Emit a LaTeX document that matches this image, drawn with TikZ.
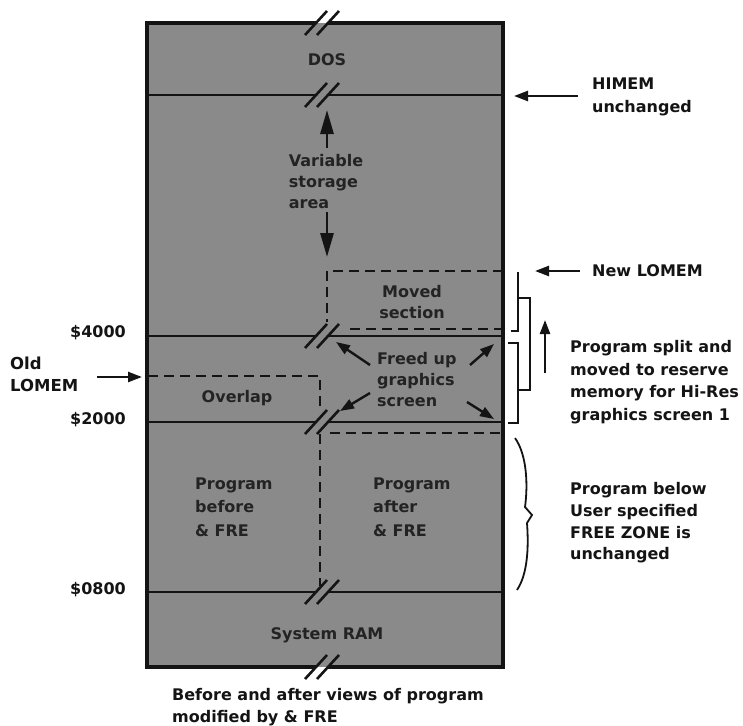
\documentclass[tikz,border=0pt]{standalone}
\usepackage{fontspec}
\setmainfont{DejaVu Sans}
\usetikzlibrary{arrows.meta}
\definecolor{boxgray}{RGB}{138,138,138}
\definecolor{ink}{RGB}{20,20,20}
\definecolor{inink}{RGB}{35,35,35}
\newcommand\brkmark[2]{\draw[brkline,shift={(#1,#2)}] (-17,12) -- (5,-12) (-5,12) -- (17,-12);}
\begin{document}
\begin{tikzpicture}[x=1pt,y=-1pt,
  txt/.style={inner sep=0pt, font=\fontsize{16}{21}\selectfont\bfseries, text=ink},
  intxt/.style={txt, text=inink},
  border/.style={line width=3.2pt, draw=ink},
  mline/.style={line width=2.8pt, draw=ink},
  dline/.style={line width=2.8pt, draw=ink, dash pattern=on 10pt off 6pt},
  brkline/.style={line width=2.6pt, draw=ink},
  arr/.style={line width=2.4pt, draw=ink, -{Triangle[length=14pt,width=10pt]}},
  bigarr/.style={line width=2.8pt, draw=ink, -{Triangle[length=24pt,width=13pt]}},
  bracket/.style={line width=1.8pt, draw=ink}
]
\useasboundingbox (0,0) rectangle (743,725);
\fill[white] (0,0) rectangle (743,725);
% memory box
\fill[boxgray] (147,23) rectangle (503,667);
\draw[border] (316,23) -- (147,23) -- (147,667) -- (316,667);
\draw[border] (328,23) -- (503,23) -- (503,667) -- (328,667);
% horizontal divisions
\draw[mline] (147,95) -- (316,95) (328,95) -- (503,95);
\draw[mline] (147,336) -- (316,336) (328,336) -- (503,336);
\draw[mline] (147,422) -- (316,422) (328,422) -- (503,422);
\draw[mline] (147,592) -- (316,592) (328,592) -- (503,592);
% dashed outlines
\draw[dline] (503,271) -- (327,271) -- (327,322);
\draw[dline] (350,329) -- (503,329);
\draw[dline] (148,376) -- (320,376) -- (320,412);
\draw[dline] (320,434) -- (320,586);
\draw[dline] (330,433) -- (503,433);
% break marks
\brkmark{322}{23}
\brkmark{322}{95}
\brkmark{322}{336}
\brkmark{322}{422}
\brkmark{322}{592}
\brkmark{322}{667}
% texts inside
\node[intxt] (dos) at (327,60) {DOS};
\node[intxt, align=left] (var) at (326,182) {Variable\\storage\\area};
\node[intxt, align=center] (moved) at (412,302) {Moved\\section};
\node[intxt, align=left, anchor=west] (freed) at (377,380) {Freed up\\graphics\\screen};
\node[intxt] (overlap) at (237,398) {Overlap};
\node[intxt, align=left, anchor=west, font=\fontsize{16}{23.5}\selectfont\bfseries] (before) at (195,507) {Program\\before\\\& FRE};
\node[intxt, align=left, anchor=west, font=\fontsize{16}{23.5}\selectfont\bfseries] (after) at (373,507) {Program\\after\\\& FRE};
\node[intxt] (sysram) at (327,635) {System RAM};
% variable storage arrows
\coordinate (varUpTail) at (327,148);
\coordinate (varUpTip) at (327,110);
\coordinate (varDnTail) at (327,212);
\coordinate (varDnTip) at (327,257);
\draw[bigarr] (varUpTail) -- (varUpTip);
\draw[bigarr] (varDnTail) -- (varDnTip);
% freed arrows
\coordinate (fUL0) at (370,365); \coordinate (fUL) at (336,342);
\coordinate (fUR0) at (470,365); \coordinate (fUR) at (494,344);
\coordinate (fLL0) at (370,393); \coordinate (fLL) at (340,411);
\coordinate (fLR0) at (467,402); \coordinate (fLR) at (494,419);
\draw[arr] (fUL0) -- (fUL);
\draw[arr] (fUR0) -- (fUR);
\draw[arr] (fLL0) -- (fLL);
\draw[arr] (fLR0) -- (fLR);
% left labels
\node[txt, anchor=east] (a4000) at (126,333) {\$4000};
\node[txt, anchor=east] (a2000) at (126,420) {\$2000};
\node[txt, anchor=east] (a0800) at (126,590) {\$0800};
\node[txt, align=left, anchor=west, font=\fontsize{16.5}{22}\selectfont\bfseries] (oldlomem) at (10,374) {Old\\LOMEM};
\coordinate (oldTail) at (97,377); \coordinate (oldTip) at (142,377);
\draw[arr] (oldTail) -- (oldTip);
% right labels
\node[txt, align=left, anchor=west, font=\fontsize{16}{23}\selectfont\bfseries] (himem) at (592,97) {HIMEM\\unchanged};
\coordinate (himTail) at (578,96); \coordinate (himTip) at (514,96);
\draw[arr] (himTail) -- (himTip);
\node[txt, anchor=west] (newlomem) at (592,271) {New LOMEM};
\coordinate (newTail) at (580,271); \coordinate (newTip) at (535,271);
\draw[arr] (newTail) -- (newTip);
\node[txt, align=left, anchor=west, font=\fontsize{16}{22.5}\selectfont\bfseries] (split) at (570,382) {Program split and\\moved to reserve\\memory for Hi-Res\\graphics screen 1};
\coordinate (upTail) at (545,373); \coordinate (upTip) at (545,320);
\draw[arr] (upTail) -- (upTip);
\node[txt, align=left, anchor=west, font=\fontsize{16}{21.7}\selectfont\bfseries] (below) at (570,523) {Program below\\User specified\\FREE ZONE is\\unchanged};
% brackets
\draw[bracket] (518,272) -- (518,331) -- (511,331);
\draw[bracket] (508,343) -- (518,343) -- (518,423) -- (508,423);
\draw[bracket] (518,298) -- (530,298) -- (530,390) -- (518,390);
% brace
\draw[line width=1.8pt, draw=ink] (515,438) .. controls (527,455) and (528,485) .. (525,507) -- (532,515) -- (527,523) .. controls (529,550) and (527,575) .. (517,590);
% caption
\node[txt, align=left, anchor=west, font=\fontsize{16}{22}\selectfont\bfseries] (caption) at (172,707) {Before and after views of program\\modified by \& FRE};
\end{tikzpicture}
\end{document}
